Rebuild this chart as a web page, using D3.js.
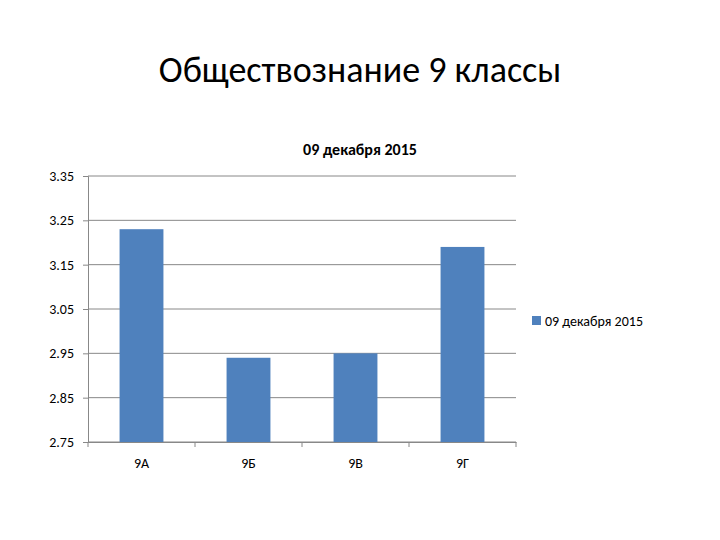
<!DOCTYPE html>
<html><head><meta charset="utf-8">
<script src="https://cdn.jsdelivr.net/npm/d3@7"></script>
<style>body{margin:0;background:#fff}</style></head>
<body><svg id="c" width="720" height="540"></svg>
<script>
const categories = ["9А","9Б","9В","9Г"];
const values = [3.23, 2.94, 2.95, 3.19];
const yTicks = [2.75, 2.85, 2.95, 3.05, 3.15, 3.25, 3.35];
const seriesName = "09 декабря 2015";

const svg = d3.select("#c");
const font = "Calibri, Carlito, 'Liberation Sans', sans-serif";
const L=88, R=516, T=176, B=442;
const x = d3.scaleBand().domain(categories).range([L,R]).paddingInner(0.59).paddingOuter(0.295);
const y = d3.scaleLinear().domain([2.75,3.35]).range([B,T]);

svg.append("text").attr("x",360).attr("y",82).attr("text-anchor","middle")
  .attr("font-family",font).attr("font-size",36).attr("fill","#000").text("Обществознание 9 классы");
svg.append("text").attr("x",360).attr("y",155).attr("text-anchor","middle")
  .attr("font-family",font).attr("font-size",16).attr("font-weight","bold").text("09 декабря  2015");

svg.append("g").selectAll("line").data(yTicks).join("line")
  .attr("x1",L).attr("x2",R).attr("y1",d=>y(d)).attr("y2",d=>y(d)).attr("stroke","#888").attr("stroke-width",1);

const ya = svg.append("g").attr("transform",`translate(${L},0)`)
  .call(d3.axisLeft(y).tickValues(yTicks).tickFormat(d3.format(".2f")).tickSize(5));
ya.select(".domain").attr("stroke","#888");
ya.selectAll("line").attr("stroke","#888");
ya.selectAll("text").attr("font-family",font).attr("font-size",14).attr("fill","#000").attr("x",-14);

const xa = svg.append("g").attr("transform",`translate(0,${B})`)
  .call(d3.axisBottom(x).tickSize(0).tickPadding(16));
xa.select(".domain").attr("stroke","#888");
xa.selectAll("text").attr("font-family",font).attr("font-size",14).attr("fill","#000");
svg.append("g").selectAll("line").data(d3.range(categories.length+1)).join("line")
  .attr("x1",i=>L+i*(R-L)/categories.length).attr("x2",i=>L+i*(R-L)/categories.length)
  .attr("y1",B).attr("y2",B+5).attr("stroke","#888");

svg.append("g").selectAll("rect").data(values).join("rect")
  .attr("x",(d,i)=>x(categories[i])).attr("width",x.bandwidth())
  .attr("y",d=>y(d)).attr("height",d=>B-y(d)).attr("fill","#4f81bd");

svg.append("rect").attr("x",532).attr("y",316).attr("width",9).attr("height",9).attr("fill","#4f81bd");
svg.append("text").attr("x",545).attr("y",326).attr("font-family",font).attr("font-size",14).text(seriesName);
</script></body></html>
